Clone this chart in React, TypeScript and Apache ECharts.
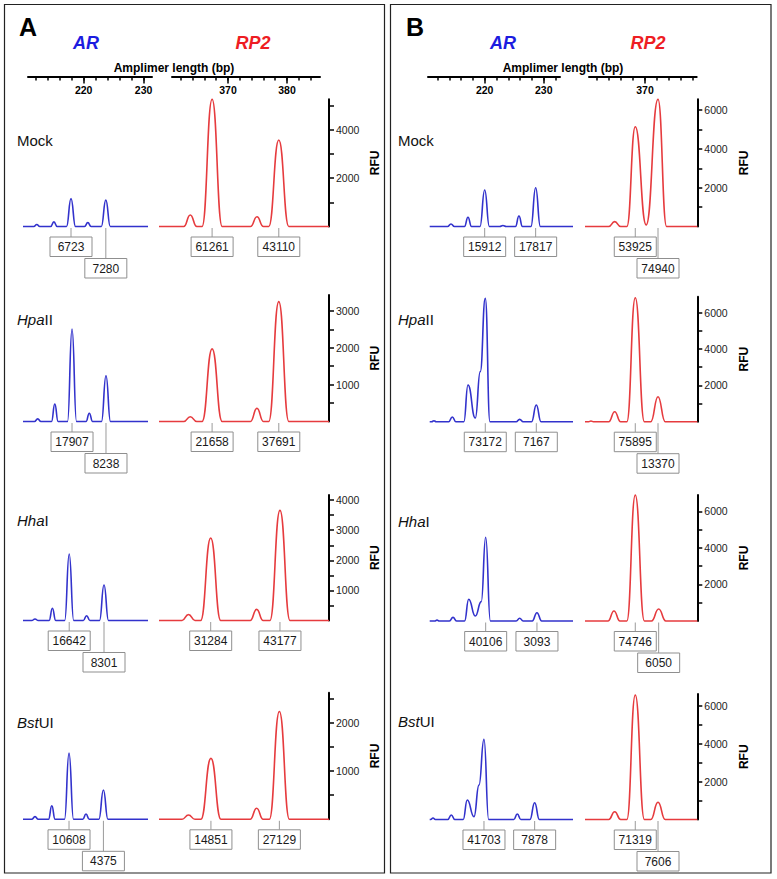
import React, { useEffect, useRef } from 'react';
import * as echarts from 'echarts';

// ---------- data (bp, RFU) ----------
const A_MOCK_AR = [[209.9,0],[211.7,0],[212.2,80],[212.7,0],[214.5,0],[215.05,190],[215.6,0],[217.15,0],[217.9,1150],[218.65,0],[220.15,0],[220.7,160],[221.25,0],[222.95,0],[223.7,1090],[224.45,0],[230.73,0]];
const A_MOCK_RP2 = [[358.3,0],[362.5,0],[363.6,475],[364.7,0],[365.6,0],[367.3,5250],[369.0,0],[373.8,0],[374.9,400],[376.0,0],[376.9,0],[378.6,3570],[380.3,0],[387.11,0]];
const A_HPAII_AR = [[209.9,0],[211.8,0],[212.35,70],[212.9,0],[214.65,0],[215.2,475],[215.75,0],[217.32,0],[218.07,2510],[218.82,0],[220.4,0],[220.95,225],[221.5,0],[222.98,0],[223.73,1240],[224.48,0],[230.73,0]];
const A_HPAII_RP2 = [[358.3,0],[362.5,0],[363.6,130],[364.7,0],[365.6,0],[367.3,1970],[369.0,0],[373.8,0],[374.9,360],[376.0,0],[376.9,0],[378.6,3250],[380.3,0],[387.11,0]];
const A_HHAI_AR = [[209.9,0],[211.35,0],[211.9,50],[212.45,0],[214.25,0],[214.8,405],[215.35,0],[216.85,0],[217.6,2210],[218.35,0],[219.95,0],[220.5,160],[221.05,0],[222.65,0],[223.4,1180],[224.15,0],[230.73,0]];
const A_HHAI_RP2 = [[358.3,0],[362.2,0],[363.3,200],[364.4,0],[365.36,0],[367.06,2740],[368.76,0],[373.75,0],[374.85,370],[375.95,0],[377.1,0],[378.8,3660],[380.5,0],[387.11,0]];
const A_BSTUI_AR = [[209.9,0],[211.35,0],[211.9,55],[212.45,0],[214.15,0],[214.7,280],[215.25,0],[216.82,0],[217.57,1370],[218.32,0],[219.85,0],[220.4,110],[220.95,0],[222.55,0],[223.3,605],[224.05,0],[230.73,0]];
const A_BSTUI_RP2 = [[358.3,0],[362.2,0],[363.3,90],[364.4,0],[365.4,0],[367.1,1260],[368.8,0],[373.75,0],[374.85,230],[375.95,0],[377.0,0],[378.7,2230],[380.4,0],[387.11,0]];

const B_MOCK_AR = [[210.68,0],[213.7,0],[214.29,130],[214.88,0],[216.57,0],[217.17,475],[217.77,0],[219.2,0],[220.0,1880],[220.8,0],[222.55,0],[223.1,50],[223.65,0],[225.21,0],[225.81,540],[226.41,0],[227.84,0],[228.64,2000],[229.44,0],[234.97,0]];
const B_MOCK_RP2 = [[360,0],[363.95,0],[364.95,250],[365.95,0],[366.98,0],[368.38,5145],[370.2,80],[372.17,6560],[373.6,0],[378.72,0]];
const B_HPAII_AR = [[210.68,0],[211.0,0],[211.4,50],[211.8,0],[213.91,0],[214.51,260],[215.11,0],[216.47,0],[217.17,2020],[218.41,200],[219.25,2750],[220.1,6780],[220.9,0],[225.33,0],[225.93,130],[226.53,0],[227.95,0],[228.75,920],[229.55,0],[234.97,0]];
const B_HPAII_RP2 = [[360,0],[360.6,0],[361,40],[361.4,0],[363.95,0],[364.95,550],[365.95,0],[366.98,0],[368.38,6810],[369.9,0],[370.97,0],[372.17,1370],[373.37,0],[378.72,0]];
const B_HHAI_AR = [[210.68,0],[211.52,0],[211.92,50],[212.32,0],[214.03,0],[214.63,200],[215.23,0],[216.59,0],[217.29,1190],[218.41,270],[219.42,1060],[220.17,4580],[220.97,0],[225.33,0],[225.93,150],[226.53,0],[228.06,0],[228.86,455],[229.66,0],[234.97,0]];
const B_HHAI_RP2 = [[360,0],[363.83,0],[364.83,550],[365.83,0],[366.98,0],[368.38,6890],[369.9,0],[371.08,0],[372.28,660],[373.48,0],[378.72,0]];
const B_BSTUI_AR = [[210.68,0],[210.84,0],[211.24,80],[211.64,0],[213.74,0],[214.34,240],[214.94,0],[216.35,0],[217.05,1030],[218.19,150],[219.03,1820],[219.88,4240],[220.68,0],[224.93,0],[225.53,290],[226.13,0],[227.67,0],[228.47,890],[229.27,0],[234.97,0]];
const B_BSTUI_RP2 = [[360,0],[363.95,0],[364.95,410],[365.95,0],[366.98,0],[368.38,6590],[369.9,0],[370.97,0],[372.17,910],[373.37,0],[378.72,0]];

// peak annotations: [position bp, peak area, box level]
const A_MOCK_AR_AREAS = [[217.9,6723,0],[223.7,7280,1]];
const A_MOCK_RP2_AREAS = [[367.3,61261,0],[378.6,43110,0]];
const A_HPAII_AR_AREAS = [[218.07,17907,0],[223.73,8238,1]];
const A_HPAII_RP2_AREAS = [[367.3,21658,0],[378.6,37691,0]];
const A_HHAI_AR_AREAS = [[217.6,16642,0],[223.4,8301,1]];
const A_HHAI_RP2_AREAS = [[367.06,31284,0],[378.8,43177,0]];
const A_BSTUI_AR_AREAS = [[217.57,10608,0],[223.3,4375,1]];
const A_BSTUI_RP2_AREAS = [[367.1,14851,0],[378.7,27129,0]];
const B_MOCK_AR_AREAS = [[220.0,15912,0],[228.64,17817,0]];
const B_MOCK_RP2_AREAS = [[368.38,53925,0],[372.17,74940,1]];
const B_HPAII_AR_AREAS = [[220.1,73172,0],[228.75,7167,0]];
const B_HPAII_RP2_AREAS = [[368.38,75895,0],[372.17,13370,1]];
const B_HHAI_AR_AREAS = [[220.17,40106,0],[228.86,3093,0]];
const B_HHAI_RP2_AREAS = [[368.38,74746,0],[372.28,6050,1]];
const B_BSTUI_AR_AREAS = [[219.88,41703,0],[228.47,7878,0]];
const B_BSTUI_RP2_AREAS = [[368.38,71319,0],[372.17,7606,1]];

// row names (italic part, roman part)
const ROW_ITALIC = ['', 'Hpa', 'Hha', 'Bst'];
const ROW_ROMAN = ['Mock', 'II', 'I', 'UI'];

// RFU axes
const A_RFU_MAX = [5250, 3430, 4170, 2620];
const B_RFU_MAX = [6560, 6870, 6890, 6640];
const A_RFU_TICKS = [[1000,2000,3000,4000,5000],[500,1000,1500,2000,2500,3000],[500,1000,1500,2000,2500,3000,3500,4000],[500,1000,1500,2000,2500]];
const A_RFU_LABELS = [[2000,4000],[1000,2000,3000],[1000,2000,3000,4000],[1000,2000]];
const B_RFU_TICKS = [1000,2000,3000,4000,5000,6000];
const B_RFU_LABELS = [2000,4000,6000];

// amplimer length axes
const A_AR_TICKS = [212,214,216,218,220,222,224,226,228,230];
const A_AR_TICK_LABELS = [220,230];
const A_RP2_TICKS = [362,364,366,368,370,372,374,376,378,380,382,384];
const A_RP2_TICK_LABELS = [370,380];
const B_AR_TICKS = [212,214,216,218,220,222,224,226,228,230,232];
const B_AR_TICK_LABELS = [220,230];
const B_RP2_TICKS = [362,364,366,368,370,372,374,376,378];
const B_RP2_TICK_LABELS = [370];

const BLUE = '#3232cc';
const RED = '#e63b3e';
const TITLE_BLUE = '#1c1ce0';
const TITLE_RED = '#ee1d23';
const FONT = 'Arial, "Liberation Sans", sans-serif';

const PANELS = [
  {
    letter: 'A', rect: [4.5, 4.5, 380, 868.5], letterX: 28, arTitleX: 86, rpTitleX: 253, axisTitleX: 174,
    rowLabelX: 17, rfuX: 375,
    ar: { left: 23, right: 148, min: 209.9, max: 230.73 },
    rp: { left: 159, right: 329, min: 358.3, max: 387.11 },
    arAxis: { left: 28, right: 152, min: 210.7, max: 231.4, ticks: A_AR_TICKS, labels: A_AR_TICK_LABELS },
    rpAxis: { left: 172, right: 320, min: 360.5, max: 385.6, ticks: A_RP2_TICKS, labels: A_RP2_TICK_LABELS },
    baselines: [226.5, 421.5, 620.5, 819.3], tops: [99.3, 295, 495, 692.7], labelY: [140, 319, 520, 722],
    traces: [[A_MOCK_AR, A_MOCK_RP2], [A_HPAII_AR, A_HPAII_RP2], [A_HHAI_AR, A_HHAI_RP2], [A_BSTUI_AR, A_BSTUI_RP2]],
    areas: [[A_MOCK_AR_AREAS, A_MOCK_RP2_AREAS], [A_HPAII_AR_AREAS, A_HPAII_RP2_AREAS], [A_HHAI_AR_AREAS, A_HHAI_RP2_AREAS], [A_BSTUI_AR_AREAS, A_BSTUI_RP2_AREAS]],
    rfuMax: A_RFU_MAX, rfuTicks: A_RFU_TICKS, rfuLabels: A_RFU_LABELS,
  },
  {
    letter: 'B', rect: [390.5, 4.5, 380.5, 868.5], letterX: 415, arTitleX: 503, rpTitleX: 648, axisTitleX: 563,
    rowLabelX: 398, rfuX: 744,
    ar: { left: 429.7, right: 573, min: 210.68, max: 234.97 },
    rp: { left: 585, right: 697.3, min: 360, max: 378.72 },
    arAxis: { left: 428, right: 560, min: 210.39, max: 232.76, ticks: B_AR_TICKS, labels: B_AR_TICK_LABELS },
    rpAxis: { left: 589, right: 696.7, min: 360.67, max: 378.62, ticks: B_RP2_TICKS, labels: B_RP2_TICK_LABELS },
    baselines: [226.5, 421.7, 621, 819.5], tops: [99.3, 296.7, 495, 694], labelY: [140, 319, 521, 721],
    traces: [[B_MOCK_AR, B_MOCK_RP2], [B_HPAII_AR, B_HPAII_RP2], [B_HHAI_AR, B_HHAI_RP2], [B_BSTUI_AR, B_BSTUI_RP2]],
    areas: [[B_MOCK_AR_AREAS, B_MOCK_RP2_AREAS], [B_HPAII_AR_AREAS, B_HPAII_RP2_AREAS], [B_HHAI_AR_AREAS, B_HHAI_RP2_AREAS], [B_BSTUI_AR_AREAS, B_BSTUI_RP2_AREAS]],
    rfuMax: B_RFU_MAX, rfuTicks: [B_RFU_TICKS, B_RFU_TICKS, B_RFU_TICKS, B_RFU_TICKS], rfuLabels: [B_RFU_LABELS, B_RFU_LABELS, B_RFU_LABELS, B_RFU_LABELS],
  },
];

const plain = (v: number) => String(Math.round(v));

function buildOption() {
  const grid: any[] = [];
  const xAxis: any[] = [];
  const yAxis: any[] = [];
  const series: any[] = [];
  const graphic: any[] = [];

  const labelRender = (params: any, api: any) => {
    const p = api.coord([api.value(0), 0]);
    const level = api.value(2);
    const text = String(api.value(3));
    const top = p[1] + (level ? 32 : 10.5);
    return {
      type: 'group',
      children: [
        { type: 'line', shape: { x1: p[0], y1: p[1] + 1.5, x2: p[0], y2: top }, style: { stroke: '#9a9a9a', lineWidth: 1 } },
        { type: 'rect', shape: { x: p[0] - 21, y: top, width: 42, height: 19.5 }, style: { fill: '#ffffff', stroke: '#8f8f8f', lineWidth: 1 } },
        { type: 'text', x: p[0], y: top + 10, style: { text, fill: '#1a1a1a', fontSize: 12, fontFamily: FONT, align: 'center', verticalAlign: 'middle' } },
      ],
    };
  };

  PANELS.forEach((P) => {
    graphic.push({ type: 'rect', shape: { x: P.rect[0], y: P.rect[1], width: P.rect[2], height: P.rect[3] }, style: { fill: 'none', stroke: '#222', lineWidth: 1.2 } });
    graphic.push({ type: 'text', x: P.letterX, y: 27, style: { text: P.letter, fontSize: 25, fontWeight: 'bold', fontFamily: FONT, fill: '#000', align: 'center', verticalAlign: 'middle' } });
    graphic.push({ type: 'text', x: P.arTitleX, y: 43, style: { text: 'AR', fontSize: 18, fontWeight: 'bold', fontStyle: 'italic', fontFamily: FONT, fill: TITLE_BLUE, align: 'center', verticalAlign: 'middle' } });
    graphic.push({ type: 'text', x: P.rpTitleX, y: 43, style: { text: 'RP2', fontSize: 18, fontWeight: 'bold', fontStyle: 'italic', fontFamily: FONT, fill: TITLE_RED, align: 'center', verticalAlign: 'middle' } });
    graphic.push({ type: 'text', x: P.axisTitleX, y: 68, style: { text: 'Amplimer length (bp)', fontSize: 12, fontWeight: 'bold', fontFamily: FONT, fill: '#000', align: 'center', verticalAlign: 'middle' } });

    // top amplimer-length axes
    [P.arAxis, P.rpAxis].forEach((ax) => {
      const gi = grid.length;
      grid.push({ left: ax.left, top: 60, width: ax.right - ax.left, height: 16.5, containLabel: false, outerBoundsMode: 'none' });
      yAxis.push({ gridIndex: gi, type: 'value', show: false, min: 0, max: 1 });
      xAxis.push({
        gridIndex: gi, type: 'value', position: 'bottom', min: ax.min, max: ax.max,
        axisLine: { show: true, onZero: false, lineStyle: { color: '#000', width: 2 } },
        axisTick: { show: true, customValues: ax.ticks, length: 4, lineStyle: { color: '#000', width: 1.5 } },
        axisLabel: { show: false }, splitLine: { show: false },
      });
      xAxis.push({
        gridIndex: gi, type: 'value', position: 'bottom', offset: 0, min: ax.min, max: ax.max,
        axisLine: { show: false, onZero: false },
        axisTick: { show: true, customValues: ax.labels, length: 7, lineStyle: { color: '#000', width: 1.5 } },
        axisLabel: { show: true, customValues: ax.labels, formatter: plain, fontSize: 10.5, fontWeight: 'bold', fontFamily: FONT, color: '#000', margin: 8 },
        splitLine: { show: false },
      });
    });

    for (let r = 0; r < 4; r++) {
      const base = P.baselines[r];
      const top = P.tops[r];
      const h = base - top;
      const max = P.rfuMax[r];

      graphic.push({
        type: 'text', x: P.rowLabelX, y: P.labelY[r],
        style: {
          text: (ROW_ITALIC[r] ? '{i|' + ROW_ITALIC[r] + '}' : '') + ROW_ROMAN[r],
          fontSize: 15, fontFamily: FONT, fill: '#111', align: 'left', verticalAlign: 'middle',
          rich: { i: { fontStyle: 'italic', fontSize: 15, fontFamily: FONT, fill: '#111' } },
        },
      });
      graphic.push({ type: 'text', x: P.rfuX, y: (top + base) / 2, rotation: Math.PI / 2, style: { text: 'RFU', fontSize: 12, fontWeight: 'bold', fontFamily: FONT, fill: '#000', align: 'center', verticalAlign: 'middle' } });

      [0, 1].forEach((t) => {
        const g = t === 0 ? P.ar : P.rp;
        const gi = grid.length;
        grid.push({ left: g.left, top, width: g.right - g.left, height: h, containLabel: false, outerBoundsMode: 'none' });
        const xi = xAxis.length;
        xAxis.push({ gridIndex: gi, type: 'value', min: g.min, max: g.max, show: false });
        const yi = yAxis.length;
        if (t === 0) {
          yAxis.push({ gridIndex: gi, type: 'value', min: 0, max, show: false });
        } else {
          yAxis.push({
            gridIndex: gi, type: 'value', min: 0, max, position: 'right',
            axisLine: { show: true, lineStyle: { color: '#000', width: 2 } },
            axisTick: { show: true, customValues: P.rfuTicks[r], length: 5, lineStyle: { color: '#000', width: 1.5 } },
            axisLabel: { show: true, customValues: P.rfuLabels[r], formatter: plain, fontSize: 10.5, fontFamily: FONT, color: '#222', margin: 7 },
            splitLine: { show: false },
          });
        }
        series.push({
          type: 'line', xAxisIndex: xi, yAxisIndex: yi, data: P.traces[r][t], showSymbol: false, symbol: 'none',
          smooth: 0.5, smoothMonotone: 'x', clip: false,
          lineStyle: { color: t === 0 ? BLUE : RED, width: 1.6 }, silent: true, z: 3,
        });
        series.push({
          type: 'custom', xAxisIndex: xi, yAxisIndex: yi, renderItem: labelRender, clip: false, silent: true, z: 4,
          encode: { x: 0, y: 1 },
          data: P.areas[r][t].map((a: number[]) => [a[0], 0, a[2], a[1]]),
        });
      });
    }
  });

  return { animation: false, backgroundColor: '#ffffff', grid, xAxis, yAxis, series, graphic };
}

export default function App() {
  const ref = useRef<HTMLDivElement>(null);
  useEffect(() => {
    if (!ref.current) return;
    const chart = echarts.init(ref.current, null, { renderer: 'svg' });
    chart.setOption(buildOption() as any);
    return () => chart.dispose();
  }, []);
  return <div ref={ref} style={{ position: 'absolute', left: 0, top: 0, width: 777, height: 879, background: '#fff' }} />;
}
